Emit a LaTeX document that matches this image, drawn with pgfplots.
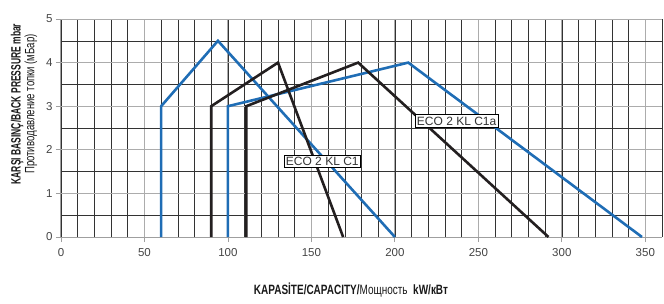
\documentclass[border=0pt]{standalone}
\usepackage{fontspec}
\setmainfont{Liberation Sans}
\newfontfamily\narrowx[FakeStretch=0.74]{Liberation Sans}
\newfontfamily\narrowyb[FakeStretch=0.63]{Liberation Sans}
\newfontfamily\narrowyr[FakeStretch=0.71]{Liberation Sans}
\usepackage{pgfplots}
\pgfplotsset{compat=1.18}
\definecolor{cblue}{HTML}{1F6DB5}
\definecolor{cblack}{HTML}{231F20}
\definecolor{tickc}{HTML}{444444}
\begin{document}
\begin{tikzpicture}
\useasboundingbox (-61pt,-66pt) rectangle (603pt,237pt);
\begin{axis}[
  at={(0,0)}, anchor=origin,
  scale only axis, width=601pt, height=218pt,
  xmin=0, xmax=360, ymin=0, ymax=5,
  xtick={0,50,...,350}, ytick={0,1,...,5},
  minor xtick={0,10,...,360}, minor ytick={0.5,1.5,...,4.5},
  grid=both,
  major grid style={gray!65, line width=1pt},
  minor grid style={black!80, line width=0.6pt},
  axis line style={gray!75, line width=1pt},
  axis x line*=bottom, axis y line*=left,
  tick style={gray!75, line width=0.8pt},
  tick align=outside, major tick length=5pt, minor tick length=0pt,
  /pgf/number format/assume math mode=true,
  ticklabel style={font=\fontsize{11.5}{13}\selectfont, text=tickc},
  xticklabel style={yshift=-3pt},
  clip=false,
  every axis plot/.append style={line width=2.6pt, line join=miter, line cap=butt},
]
\addplot[cblue, mark=none] coordinates {(60,0) (60,3) (94,4.5) (200,0)};
\addplot[cblue, mark=none] coordinates {(100,0) (100,3) (208,4) (348,0)};
\addplot[cblack, mark=none] coordinates {(90,0) (90,3) (130,4) (169,0)};
\addplot[cblack, mark=none] coordinates {(111,0) (111,3) (178,4) (292,0)};
\node[draw=black, fill=white, line width=0.6pt, inner sep=2pt, font=\fontsize{12}{14}\selectfont, text=black!80] at (axis cs:156.5,1.74) {ECO 2 KL C1};
\node[draw=black, fill=white, line width=0.6pt, inner sep=2pt, font=\fontsize{12}{14}\selectfont, text=black!80] at (axis cs:237,2.66) {ECO 2 KL C1a};
\node[rotate=90, anchor=center, align=center, text=black!90] at (axis description cs:-0.0616,0.61) {{\narrowyb\fontsize{13.5}{12.5}\selectfont\bfseries KARŞI BASINÇ/BACK PRESSURE mbar}\\{\narrowyr\fontsize{13.5}{12.5}\selectfont Противодавление топки (мБар)}};
\node[anchor=center, font=\narrowx\fontsize{13.5}{14}\selectfont, text=black!90] at (axis description cs:0.4825,-0.243) {\textbf{KAPASİTE/CAPACITY/}Мощность\ \ \textbf{kW/кВт}};
\end{axis}
\end{tikzpicture}
\end{document}
